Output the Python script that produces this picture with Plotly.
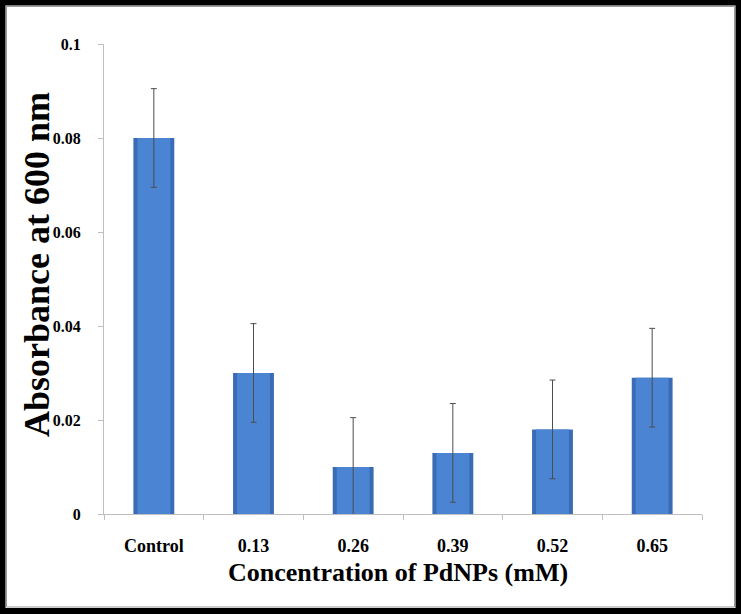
import plotly.graph_objects as go

categories = ["Control", "0.13", "0.26", "0.39", "0.52", "0.65"]
absorbance = [0.080, 0.030, 0.010, 0.013, 0.018, 0.029]
error = [0.0105, 0.0105, 0.0105, 0.0105, 0.0105, 0.0105]
y_ticks = [0, 0.02, 0.04, 0.06, 0.08, 0.1]
y_tick_labels = ["0", "0.02", "0.04", "0.06", "0.08", "0.1"]

W, H = 741, 614
ML, MR, MT, MB = 104, 39, 44, 100
PW, PH = W - ML - MR, H - MT - MB

FONT = "Liberation Serif"

fig = go.Figure()
# outer (edge) bar layer
fig.add_trace(go.Bar(
    x=categories, y=absorbance, width=0.41,
    marker=dict(color="#3a6cb6", line=dict(width=0)),
    hoverinfo="skip", showlegend=False,
))
# inner lighter bar layer
fig.add_trace(go.Bar(
    x=categories, y=absorbance, width=0.33,
    marker=dict(color="#4a84d2", line=dict(width=0)),
    error_y=dict(type="data", array=error, visible=True,
                 color="#4d4d4d", thickness=1, width=3),
    showlegend=False,
))

def px_x(p):
    return (p - ML) / PW

def px_y(p):
    return (H - MB - p) / PH

fig.add_shape(type="rect", xref="paper", yref="paper",
              x0=px_x(2.5), x1=px_x(W - 2.5), y0=px_y(H - 3), y1=px_y(2.5),
              line=dict(color="black", width=6), layer="above")
fig.add_shape(type="rect", xref="paper", yref="paper",
              x0=px_x(6.5), x1=px_x(W - 6.5), y0=px_y(H - 7), y1=px_y(6.5),
              line=dict(color="#9a9a9a", width=1), layer="above")

fig.add_annotation(text="<b>Absorbance at 600 nm</b>", xref="paper", yref="paper",
                   x=px_x(37), y=px_y(265), textangle=-90, showarrow=False,
                   font=dict(family=FONT, size=36, color="black"),
                   xanchor="center", yanchor="middle")
fig.add_annotation(text="<b>Concentration of PdNPs (mM)</b>", xref="paper", yref="paper",
                   x=px_x(398), y=px_y(572), showarrow=False,
                   font=dict(family=FONT, size=26, color="black"),
                   xanchor="center", yanchor="middle")

fig.update_layout(
    width=W, height=H,
    margin=dict(l=ML, r=MR, t=MT, b=MB),
    paper_bgcolor="white", plot_bgcolor="white",
    barmode="overlay",
    font=dict(family=FONT, color="black"),
    xaxis=dict(
        showline=True, linecolor="#bfbfbf", linewidth=1,
        ticks="outside", ticklen=5, tickcolor="#bfbfbf", tickson="boundaries",
        showgrid=False, zeroline=False,
        tickfont=dict(family=FONT, size=18, color="black"),
        tickprefix="<b>", ticksuffix="</b>",
        ticklabelstandoff=15,
    ),
    yaxis=dict(
        range=[0, 0.1], tickvals=y_ticks,
        ticktext=["<b>%s</b>" % t for t in y_tick_labels],
        showline=True, linecolor="#bfbfbf", linewidth=1,
        ticks="outside", ticklen=5, tickcolor="#bfbfbf",
        showgrid=False, zeroline=False,
        tickfont=dict(family=FONT, size=16, color="black"),
        ticklabelstandoff=14,
    ),
)

fig.write_html("out.html", config={"displayModeBar": False},
               post_script="document.body.style.margin='0';document.body.style.overflow='hidden';")
